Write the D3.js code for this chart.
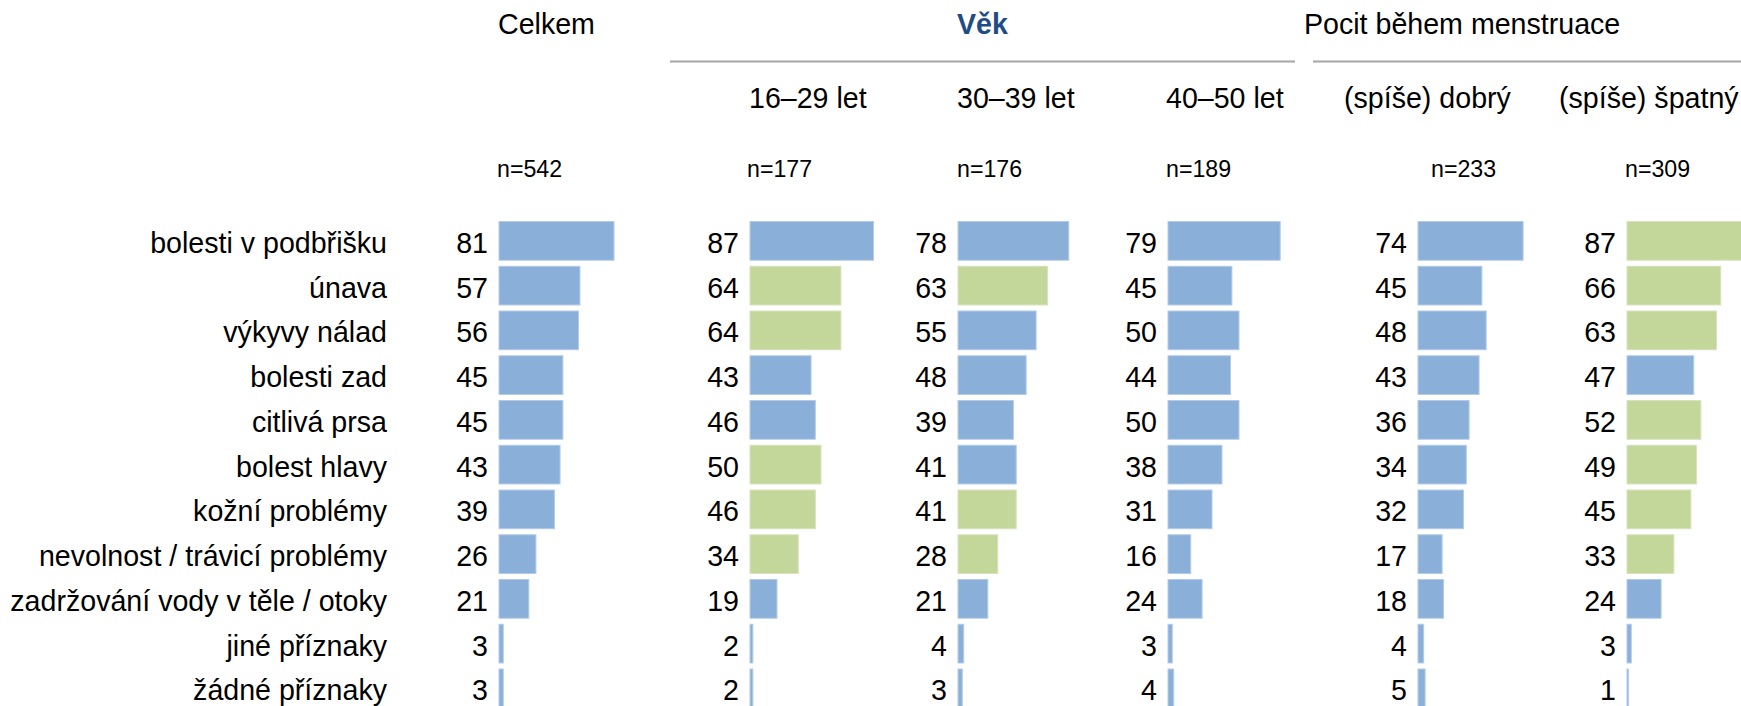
<html>
<head>
<title>Příznaky menstruace</title>
<script src="https://d3js.org/d3.v7.min.js"></script>
<style>
body { margin: 0; background: #fff; font-family: 'Liberation Sans', Arial, sans-serif; }
svg { display: block; }
</style>
</head>
<body>
<svg></svg>

<script>

var width = 1741;
var height = 706;

// Data
var categories = ["bolesti v podbřišku", "únava", "výkyvy nálad", "bolesti zad", "citlivá prsa",
	"bolest hlavy", "kožní problémy", "nevolnost / trávicí problémy",
	"zadržování vody v těle / otoky", "jiné příznaky", "žádné příznaky"];

var columns = ["Celkem", "16–29 let", "30–39 let", "40–50 let", "(spíše) dobrý", "(spíše) špatný"];
var sampleSizes = ["n=542", "n=177", "n=176", "n=189", "n=233", "n=309"];

var celkem  = [81, 57, 56, 45, 45, 43, 39, 26, 21, 3, 3];
var age1629 = [87, 64, 64, 43, 46, 50, 46, 34, 19, 2, 2];
var age3039 = [78, 63, 55, 48, 39, 41, 41, 28, 21, 4, 3];
var age4050 = [79, 45, 50, 44, 50, 38, 31, 16, 24, 3, 4];
var feelGood = [74, 45, 48, 43, 36, 34, 32, 17, 18, 4, 5];
var feelBad  = [87, 66, 63, 47, 52, 49, 45, 33, 24, 3, 1];

// 1 = significantly higher than total (green bar)
var highCelkem  = [0, 0, 0, 0, 0, 0, 0, 0, 0, 0, 0];
var high1629    = [0, 1, 1, 0, 0, 1, 1, 1, 0, 0, 0];
var high3039    = [0, 1, 0, 0, 0, 0, 1, 1, 0, 0, 0];
var high4050    = [0, 0, 0, 0, 0, 0, 0, 0, 0, 0, 0];
var highGood    = [0, 0, 0, 0, 0, 0, 0, 0, 0, 0, 0];
var highBad     = [1, 1, 1, 0, 1, 1, 1, 1, 0, 0, 0];

var series = [celkem, age1629, age3039, age4050, feelGood, feelBad];
var highs = [highCelkem, high1629, high3039, high4050, highGood, highBad];

// Layout
var barStart = [499, 750, 958, 1168, 1418, 1627];
var headerX = [498, 749, 957, 1166, 1344, 1559];
var nX = [497, 747, 957, 1166, 1431, 1625];
var labelRight = 387;
var bigFont = 28.6;
var smallFont = 23.2;

var blue = "#8aafd8";
var green = "#c4d79b";

var svg = d3.select("svg").attr("width", width).attr("height", height);

var xScale = d3.scaleLinear().domain([0, 100]).range([0, 142]);

var yScale = d3.scaleBand()
.domain(categories)
.range([218.5, 710.75])
.paddingInner(0.135)
.paddingOuter(0.0675);

// Group headers
svg.append("text")
.attr("x", headerX[0]).attr("y", 34)
.style("font-size", bigFont + "px")
.text(columns[0]);

svg.append("text")
.attr("x", 982.5).attr("y", 34)
.attr("text-anchor", "middle")
.style("font-size", bigFont + "px")
.style("font-weight", "bold")
.style("fill", "#1f4b86")
.text("Věk");

svg.append("text")
.attr("x", 1304).attr("y", 34)
.style("font-size", bigFont + "px")
.text("Pocit během menstruace");

svg.append("line")
.attr("x1", 670).attr("x2", 1295).attr("y1", 61.5).attr("y2", 61.5)
.style("stroke", "#a6a6a6").style("stroke-width", 2);

svg.append("line")
.attr("x1", 1313).attr("x2", width).attr("y1", 61.5).attr("y2", 61.5)
.style("stroke", "#a6a6a6").style("stroke-width", 2);

// Column headers (the total column has its header on the top row) and sample sizes
svg.selectAll("text.col").data(columns.slice(1)).enter().append("text")
.attr("class", "col")
.attr("x", function (d, i) { return headerX[i + 1]; })
.attr("y", 108)
.style("font-size", bigFont + "px")
.text(function (d) { return d; });

svg.selectAll("text.n").data(sampleSizes).enter().append("text")
.attr("class", "n")
.attr("x", function (d, i) { return nX[i]; })
.attr("y", 177)
.style("font-size", smallFont + "px")
.text(function (d) { return d; });

// Category labels
svg.selectAll("text.cat").data(categories).enter().append("text")
.attr("class", "cat")
.attr("x", labelRight)
.attr("y", function (d) { return yScale(d) + yScale.bandwidth() / 2 + 12; })
.attr("text-anchor", "end")
.style("font-size", bigFont + "px")
.text(function (d) { return d; });

// Bars and values, one group per column
series.forEach(function (values, c) {
	var rows = values.map(function (v, i) {
		return { cat: categories[i], value: v, high: highs[c][i] };
	});
	var g = svg.append("g").attr("transform", "translate(" + barStart[c] + ",0)");

	g.selectAll("rect").data(rows).enter().append("rect")
	.attr("x", 0)
	.attr("y", function (d) { return yScale(d.cat); })
	.attr("width", function (d) { return xScale(d.value); })
	.attr("height", yScale.bandwidth())
	.style("fill", function (d) { return d.high ? green : blue; })
	.style("stroke", function (d) { return d.high ? "#d6e3bb" : "#b3cbe8"; })
	.style("stroke-width", 1);

	g.selectAll("text").data(rows).enter().append("text")
	.attr("x", -11)
	.attr("y", function (d) { return yScale(d.cat) + yScale.bandwidth() / 2 + 12; })
	.attr("text-anchor", "end")
	.style("font-size", bigFont + "px")
	.text(function (d) { return d.value; });
});

</script>
</body>
</html>
